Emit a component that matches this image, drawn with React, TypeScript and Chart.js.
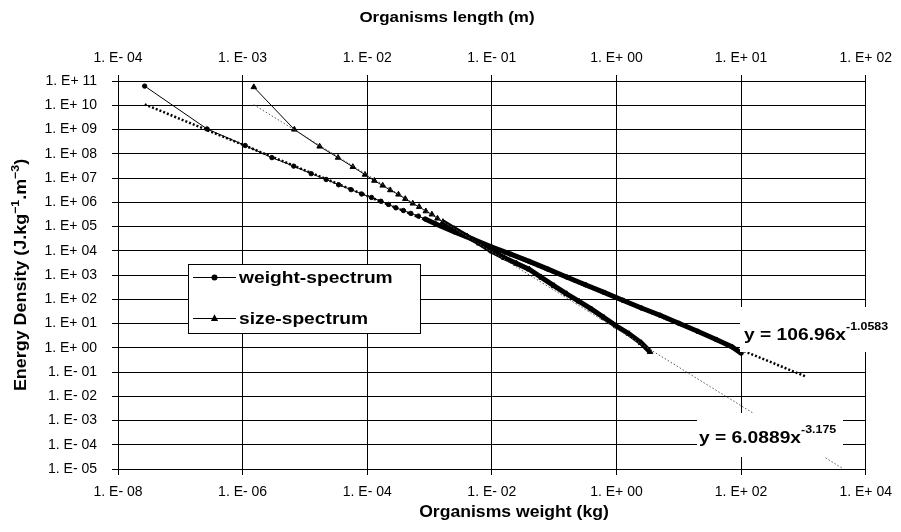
import React, { useEffect, useRef } from "react";
import { Chart, registerables } from "chart.js";

Chart.register(...registerables);

// ---------- data ----------
const seriesNames = ["weight-spectrum", "size-spectrum"];

// weight-spectrum: organism weight (kg) vs energy density
const weightKg = [
  2.68e-8, 2.69e-7, 1.1e-6, 2.95e-6, 6.61e-6, 1.26e-5, 2.19e-5, 3.47e-5, 5.5e-5,
  8.13e-5, 1.17e-4, 1.66e-4, 2.19e-4, 2.88e-4, 3.8e-4, 5.01e-4, 6.61e-4, 8.51e-4,
  1.26e-3, 2.51e-3, 5.01e-3, 1.0e-2, 2.0e-2, 3.98e-2, 7.94e-2, 0.158, 0.316, 0.631,
  1.26, 2.51, 5.01, 10, 20, 39.8, 70.8, 100,
];
const weightEnergy = [
  6.17e10, 1.05e9, 2.19e8, 6.92e7, 3.09e7, 1.51e7, 8.71e6, 5.25e6, 3.31e6,
  2.19e6, 1.58e6, 1.1e6, 8.13e5, 5.89e5, 4.57e5, 3.47e5, 2.69e5, 2.04e5,
  1.26e5, 6.03e4, 2.95e4, 1.41e4, 7.24e3, 3.63e3, 1.74e3, 832, 398, 191,
  91.2, 43.7, 21.9, 10.2, 4.79, 2.19, 1.1, 0.6,
];

// size-spectrum: organism length (m) vs energy density
const lengthM = [
  1.23e-3, 2.6e-3, 4.15e-3, 5.83e-3, 7.66e-3, 9.59e-3, 1.14e-2, 1.33e-2, 1.53e-2,
  1.78e-2, 2.02e-2, 2.32e-2, 2.61e-2, 2.95e-2, 3.3e-2, 3.66e-2, 4.05e-2, 5.01e-2,
  6.31e-2, 7.94e-2, 0.1, 0.126, 0.158, 0.2, 0.251, 0.316, 0.398, 0.501, 0.631,
  0.794, 1.0, 1.26, 1.58, 1.86,
];
const sizeEnergy = [
  5.62e10, 1.0e9, 2.0e8, 6.92e7, 2.88e7, 1.38e7, 7.76e6, 4.9e6, 3.16e6,
  2.09e6, 1.38e6, 8.91e5, 6.46e5, 4.27e5, 3.16e5, 2.14e5, 1.55e5, 7.94e4,
  3.98e4, 2.0e4, 9.55e3, 5.13e3, 2.95e3, 1.7e3, 776, 355, 166, 81.3, 38.9,
  17.4, 7.76, 3.72, 1.58, 0.676,
];

// power trend lines (end points)
const weightTrendKg = [2.68e-8, 1.1e3];
const weightTrendEnergy = [1.09e10, 0.0646];
const sizeTrendM = [1.23e-3, 66];
const sizeTrendEnergy = [1.05e10, 1.02e-5];

const equationBases = ["y = 106.96x", "y = 6.0889x"];
const equationExps = ["-1.0583", "-3.175"];

// axes
const weightTicks = [1e-8, 1e-6, 1e-4, 1e-2, 1, 1e2, 1e4];
const weightTickLabels = ["1. E- 08", "1. E- 06", "1. E- 04", "1. E- 02", "1. E+ 00", "1. E+ 02", "1. E+ 04"];
const lengthTicks = [1e-4, 1e-3, 1e-2, 1e-1, 1, 10, 100];
const lengthTickLabels = ["1. E- 04", "1. E- 03", "1. E- 02", "1. E- 01", "1. E+ 00", "1. E+ 01", "1. E+ 02"];
const energyTicks = [1e-5, 1e-4, 1e-3, 1e-2, 1e-1, 1, 1e1, 1e2, 1e3, 1e4, 1e5, 1e6, 1e7, 1e8, 1e9, 1e10, 1e11];
const energyTickLabels = [
  "1. E- 05", "1. E- 04", "1. E- 03", "1. E- 02", "1. E- 01", "1. E+ 00", "1. E+ 01", "1. E+ 02", "1. E+ 03",
  "1. E+ 04", "1. E+ 05", "1. E+ 06", "1. E+ 07", "1. E+ 08", "1. E+ 09", "1. E+ 10", "1. E+ 11",
];
const xTitle = "Organisms weight (kg)";
const x2Title = "Organisms length (m)";
const yTitleParts = [
  { t: "Energy Density (J.kg", sup: false },
  { t: "\u22121", sup: true },
  { t: ".m", sup: false },
  { t: "\u22123", sup: true },
  { t: ")", sup: false },
];

// ---------- drawing helpers ----------
const FONT = '"Liberation Sans", Arial, Helvetica, sans-serif';
const SX = 1.13;

function textWidth(ctx: CanvasRenderingContext2D, text: string, size: number, sx = SX) {
  ctx.save();
  ctx.font = `bold ${size}px ${FONT}`;
  const w = ctx.measureText(text).width * sx;
  ctx.restore();
  return w;
}

function drawText(ctx: CanvasRenderingContext2D, text: string, x: number, y: number, size: number, sx = SX) {
  ctx.save();
  ctx.font = `bold ${size}px ${FONT}`;
  ctx.fillStyle = "#000";
  ctx.textAlign = "left";
  ctx.textBaseline = "alphabetic";
  ctx.translate(x, y);
  ctx.scale(sx, 1);
  ctx.fillText(text, 0, 0);
  ctx.restore();
}

function drawTriangle(ctx: CanvasRenderingContext2D, x: number, y: number, r: number) {
  ctx.beginPath();
  ctx.moveTo(x, y - r * 1.15);
  ctx.lineTo(x + r, y + r * 0.7);
  ctx.lineTo(x - r, y + r * 0.7);
  ctx.closePath();
  ctx.fill();
}

const overlayPlugin = {
  id: "overlay",
  afterDraw(chart: any) {
    const ctx: CanvasRenderingContext2D = chart.ctx;
    const ca = chart.chartArea;

    // titles
    const tw2 = textWidth(ctx, x2Title, 15);
    drawText(ctx, x2Title, 447 - tw2 / 2, 22, 15);
    const tw = textWidth(ctx, xTitle, 16, 1.1);
    drawText(ctx, xTitle, 514 - tw / 2, 517, 16, 1.1);

    // y title rotated with superscripts
    ctx.save();
    ctx.translate(26, (ca.top + ca.bottom) / 2);
    ctx.rotate(-Math.PI / 2);
    const ysz = 16;
    const ysx = 1.12;
    let total = 0;
    for (const p of yTitleParts) total += textWidth(ctx, p.t, p.sup ? 11 : ysz, ysx);
    let cx = -total / 2;
    for (const p of yTitleParts) {
      const s = p.sup ? 11 : ysz;
      drawText(ctx, p.t, cx, p.sup ? -7 : 0, s, ysx);
      cx += textWidth(ctx, p.t, s, ysx);
    }
    ctx.restore();

    // legend
    ctx.save();
    ctx.fillStyle = "#fff";
    ctx.fillRect(188, 264, 232, 69);
    ctx.strokeStyle = "#000";
    ctx.lineWidth = 1;
    ctx.strokeRect(188.5, 264.5, 232, 69);
    const rows = [277, 318];
    rows.forEach((ry, i) => {
      ctx.strokeStyle = "#000";
      ctx.lineWidth = 1;
      ctx.beginPath();
      ctx.moveTo(193, ry + 0.5);
      ctx.lineTo(236, ry + 0.5);
      ctx.stroke();
      ctx.fillStyle = "#000";
      if (i === 0) {
        ctx.beginPath();
        ctx.arc(214.5, ry + 0.5, 3, 0, Math.PI * 2);
        ctx.fill();
      } else {
        drawTriangle(ctx, 214.5, ry + 0.5, 3.6);
      }
      drawText(ctx, seriesNames[i], 239, ry + 6, 17);
    });
    ctx.restore();

    // equation labels
    const boxes = [
      { x: 740, y: 307, w: 153, h: 45, tx: 744, ty: 340 },
      { x: 697, y: 413, w: 146, h: 44, tx: 699, ty: 443 },
    ];
    boxes.forEach((b, i) => {
      ctx.save();
      ctx.fillStyle = "#fff";
      ctx.fillRect(b.x, b.y, b.w, b.h);
      ctx.restore();
      const w = textWidth(ctx, equationBases[i], 17);
      drawText(ctx, equationBases[i], b.tx, b.ty, 17);
      drawText(ctx, equationExps[i], b.tx + w, b.ty - 10, 11);
    });
  },
};

const tickFont = { family: FONT, size: 14 };

export default function App() {
  const ref = useRef<HTMLCanvasElement | null>(null);

  useEffect(() => {
    if (!ref.current) return;
    const weightData = weightKg.map((x, i) => ({ x, y: weightEnergy[i] }));
    const sizeData = lengthM.map((x, i) => ({ x, y: sizeEnergy[i] }));
    const wTrend = weightTrendKg.map((x, i) => ({ x, y: weightTrendEnergy[i] }));
    const sTrend = sizeTrendM.map((x, i) => ({ x, y: sizeTrendEnergy[i] }));

    const chart = new Chart(ref.current, {
      type: "line",
      data: {
        datasets: [
          {
            label: seriesNames[0] + " trend",
            data: wTrend,
            xAxisID: "x",
            yAxisID: "y",
            borderColor: "#000",
            borderWidth: 2.5,
            borderDash: [2, 2],
            pointRadius: 0,
            fill: false,
          },
          {
            label: seriesNames[1] + " trend",
            data: sTrend,
            xAxisID: "x2",
            yAxisID: "y",
            borderColor: "#555",
            borderWidth: 1,
            borderDash: [1.5, 2],
            pointRadius: 0,
            fill: false,
          },
          {
            label: seriesNames[0],
            data: weightData,
            xAxisID: "x",
            yAxisID: "y",
            borderColor: "#000",
            borderWidth: 1,
            pointStyle: "circle",
            pointRadius: 2.2,
            pointBorderWidth: 1,
            pointBackgroundColor: "#000",
            pointBorderColor: "#000",
            fill: false,
            segment: {
              borderWidth: (c: any) => (c.p0.parsed.x >= 8e-4 ? 5 : 1),
            },
          } as any,
          {
            label: seriesNames[1],
            data: sizeData,
            xAxisID: "x2",
            yAxisID: "y",
            borderColor: "#000",
            borderWidth: 1,
            pointStyle: "triangle",
            pointRadius: 3.2,
            pointBorderWidth: 1,
            pointBackgroundColor: "#000",
            pointBorderColor: "#000",
            fill: false,
            segment: {
              borderWidth: (c: any) => (c.p0.parsed.x >= 4.0e-2 ? 5 : 1),
            },
          } as any,
        ],
      },
      options: {
        responsive: false,
        animation: false,
        layout: { padding: { left: 0, right: 25, top: 0, bottom: 0 } },
        plugins: { legend: { display: false }, tooltip: { enabled: false }, title: { display: false } },
        scales: {
          x: {
            type: "logarithmic",
            position: "bottom",
            min: 1e-8,
            max: 1e4,
            afterBuildTicks: (s: any) => {
              s.ticks = weightTicks.map((v) => ({ value: v }));
            },
            afterFit: (s: any) => {
              s.height = 63;
            },
            ticks: {
              callback: (_v: any, i: number) => weightTickLabels[i],
              font: tickFont,
              color: "#000",
              padding: 9,
              maxRotation: 0,
              autoSkip: false,
            },
            grid: { color: "#000", lineWidth: 1, tickLength: 6 },
            border: { color: "#000", width: 1 },
          },
          x2: {
            type: "logarithmic",
            position: "top",
            min: 1e-4,
            max: 1e2,
            afterBuildTicks: (s: any) => {
              s.ticks = lengthTicks.map((v) => ({ value: v }));
            },
            afterFit: (s: any) => {
              s.height = 81;
            },
            ticks: {
              callback: (_v: any, i: number) => lengthTickLabels[i],
              font: tickFont,
              color: "#000",
              padding: 8,
              maxRotation: 0,
              autoSkip: false,
            },
            grid: { color: "#000", lineWidth: 1, tickLength: 6, drawOnChartArea: false },
            border: { color: "#000", width: 1 },
          },
          y: {
            type: "logarithmic",
            position: "left",
            min: 1e-5,
            max: 1e11,
            afterBuildTicks: (s: any) => {
              s.ticks = energyTicks.map((v) => ({ value: v }));
            },
            afterFit: (s: any) => {
              s.width = 118;
            },
            ticks: {
              callback: (_v: any, i: number) => energyTickLabels[i],
              font: tickFont,
              color: "#000",
              padding: 15,
              autoSkip: false,
            },
            grid: { color: "#000", lineWidth: 1, tickLength: 6 },
            border: { color: "#000", width: 1 },
          },
        },
      } as any,
      plugins: [overlayPlugin],
    });
    return () => chart.destroy();
  }, []);

  return (
    <div style={{ position: "fixed", left: 0, top: 0, width: 901, height: 532, background: "#fff" }}>
      <canvas ref={ref} width={901} height={532} style={{ width: 901, height: 532, display: "block" }} />
    </div>
  );
}
